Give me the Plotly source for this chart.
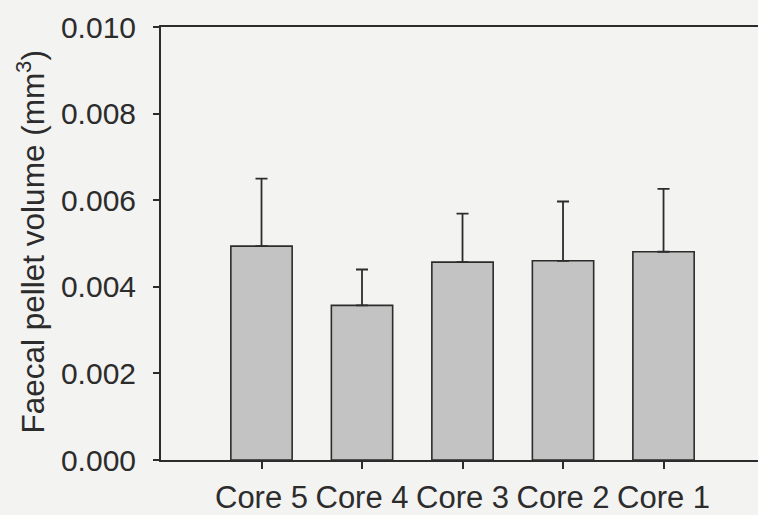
import plotly.graph_objects as go

# Faecal pellet volume per core: mean and upper standard deviation
cores = ["Core 5", "Core 4", "Core 3", "Core 2", "Core 1"]
volume = [0.00494, 0.00357, 0.00457, 0.00460, 0.00481]
sd_upper = [0.00156, 0.00083, 0.00112, 0.00137, 0.00145]
y_ticks = [0.000, 0.002, 0.004, 0.006, 0.008, 0.010]

ink = "#2c2c2c"
paper = "#f3f3f1"

fig = go.Figure(
    go.Bar(
        x=list(range(len(cores))),
        y=volume,
        width=0.61,
        marker=dict(color="#c3c3c3", line=dict(color=ink, width=1.6)),
        error_y=dict(
            type="data",
            symmetric=False,
            array=sd_upper,
            arrayminus=[0] * len(cores),
            color=ink,
            thickness=1.8,
            width=6,
        ),
    )
)

fig.update_layout(
    width=758,
    height=515,
    margin=dict(l=161, r=0, t=27, b=55),
    paper_bgcolor=paper,
    plot_bgcolor=paper,
    showlegend=False,
    font=dict(family="Liberation Sans, Arial, sans-serif", color=ink),
    annotations=[
        dict(
            text="Faecal pellet volume (mm<sup>3</sup>)",
            xref="paper",
            yref="paper",
            x=0,
            y=0.5,
            xshift=-131,
            yshift=1,
            xanchor="center",
            yanchor="middle",
            textangle=-90,
            showarrow=False,
            font=dict(size=31.5, color=ink),
        )
    ],
)

fig.update_xaxes(
    range=[-1, 4.94],
    tickmode="array",
    tickvals=list(range(len(cores))),
    ticktext=cores,
    ticks="outside",
    ticklen=7,
    tickwidth=1.6,
    tickcolor=ink,
    ticklabelstandoff=2,
    showline=True,
    linecolor=ink,
    linewidth=2,
    mirror=True,
    showgrid=False,
    zeroline=False,
    tickfont=dict(size=31, color=ink),
)

fig.update_yaxes(
    range=[0, 0.010],
    tickmode="array",
    tickvals=y_ticks,
    ticktext=[f"{v:.3f}" for v in y_ticks],
    ticks="outside",
    ticklen=6,
    tickwidth=1.6,
    tickcolor=ink,
    ticklabelstandoff=11,
    showline=True,
    linecolor=ink,
    linewidth=2,
    showgrid=False,
    zeroline=False,
    tickfont=dict(size=30, color=ink),
)

fig.write_html("out.html")
